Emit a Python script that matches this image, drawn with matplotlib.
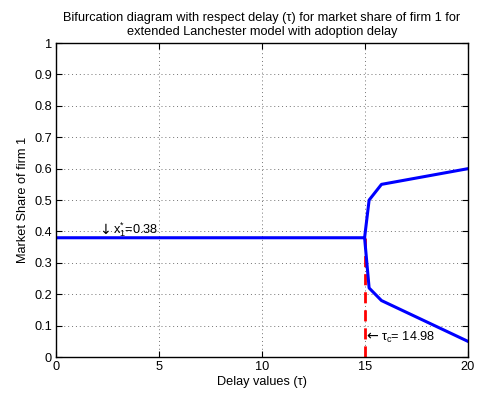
import matplotlib
matplotlib.use("Agg")
import matplotlib.pyplot as plt

plt.rcParams['font.family'] = ['Liberation Sans', 'DejaVu Sans']
plt.rcParams['mathtext.fontset'] = 'custom'
plt.rcParams['mathtext.rm'] = 'Liberation Sans'
plt.rcParams['mathtext.it'] = 'Liberation Sans'

# branches
upper_tau = [0, 14.98, 15.2, 15.8, 20]
upper_x = [0.38, 0.38, 0.50, 0.55, 0.60]
lower_tau = [14.98, 15.2, 15.8, 20]
lower_x = [0.38, 0.22, 0.18, 0.05]
tau_c = 14.98
x_star = 0.38

fs = 9.2
fig = plt.figure(figsize=(4.79, 3.95), dpi=100)
ax = fig.add_axes([0.117, 0.096, 0.860, 0.795])

ax.plot([tau_c, tau_c], [0, x_star], color='red', linewidth=2, dashes=(4, 2.5))
ax.plot(upper_tau, upper_x, color='blue', linewidth=2.2)
ax.plot(lower_tau, lower_x, color='blue', linewidth=2.2)

# arrows in DejaVu, the Liberation glyphs come out tiny
ax.text(2.1, 0.393, '↓', fontsize=fs + 1, family='DejaVu Sans')
ax.text(2.75, 0.393, 'x$^{*}_{1}$=0.38', fontsize=fs)
ax.text(15.05, 0.052, '←', fontsize=fs + 1, family='DejaVu Sans')
ax.text(15.8, 0.052, 'τ$_{c}$= 14.98', fontsize=fs)

ax.set_xlim(0, 20)
ax.set_ylim(0, 1)
ax.set_xticks([0, 5, 10, 15, 20])
ax.set_yticks([i / 10 for i in range(11)])
ax.set_yticklabels(['0', '0.1', '0.2', '0.3', '0.4', '0.5', '0.6', '0.7', '0.8', '0.9', '1'])
ax.grid(True, linestyle=(0, (1, 3)), color='0.45', linewidth=0.7)
ax.tick_params(direction='in', top=True, right=True, labelsize=fs, length=4, pad=3)
for s in ax.spines.values():
    s.set_linewidth(1.0)

ax.set_xlabel('Delay values (τ)', fontsize=fs, labelpad=2)
ax.set_ylabel('Market Share of firm 1', fontsize=fs)
ax.set_title('Bifurcation diagram with respect delay (τ) for market share of firm 1 for\n'
             'extended Lanchester model with adoption delay', fontsize=fs)

fig.savefig('out.png', dpi=100)
